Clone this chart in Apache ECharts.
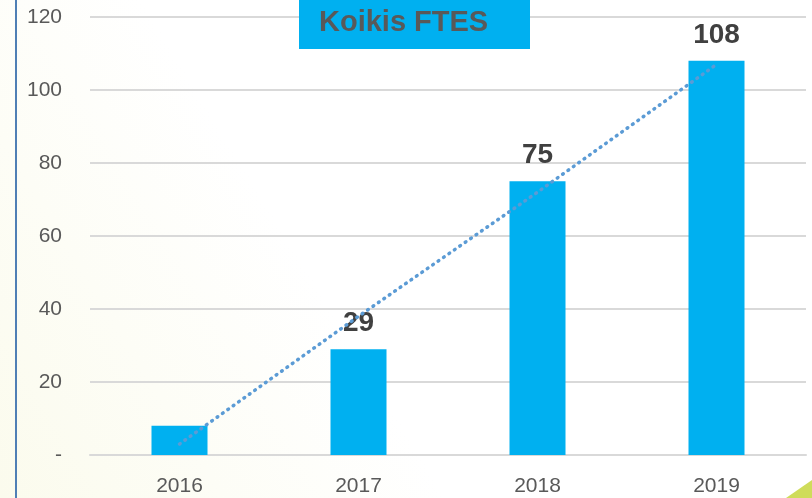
<!DOCTYPE html>
<html>
<head>
<meta charset="utf-8">
<script src="https://cdn.jsdelivr.net/npm/echarts@6/dist/echarts.min.js"></script>
<style>
  html, body { margin: 0; padding: 0; }
  #main { width: 812px; height: 498px; }
</style>
</head>
<body>
<div id="main"></div>
<script>
// chart data
let years = ['2016', '2017', '2018', '2019'];
let ftesValues = [8, 29, 75, 108];
let trendValues = [3, 38, 72, 107];   // linear trendline
let yTicks = [0, 20, 40, 60, 80, 100, 120];
let titleText = 'Koikis FTES';

let barColor = '#00B0F0';
let textGrey = '#595959';

let chart = echarts.init(document.getElementById('main'));

let option = {
	backgroundColor: new echarts.graphic.LinearGradient(1, 0, 0, 1, [
		{ offset: 0, color: '#ffffff' },
		{ offset: 0.6, color: '#ffffff' },
		{ offset: 1, color: '#fbfbed' }
	]),
	animation: false,
	grid: {
		left: 90,
		right: 6,
		top: 17,
		bottom: 43
	},
	graphic: [
		{
			type: 'line',
			z: 100,
			shape: { x1: 16, y1: 0, x2: 16, y2: 498 },
			style: { stroke: '#4F7FB5', lineWidth: 2 }
		},
		{
			type: 'polygon',
			z: 100,
			shape: { points: [[786, 498], [812, 480], [812, 498]] },
			style: { fill: '#cfdc5a' }
		},
		{
			type: 'rect',
			z: 100,
			shape: { x: 299, y: 0, width: 231, height: 49 },
			style: { fill: barColor }
		},
		{
			type: 'text',
			z: 101,
			left: 319,
			top: 8,
			style: {
				text: titleText,
				fill: textGrey,
				font: 'bold 29px "Liberation Sans"'
			}
		}
	],
	xAxis: {
		type: 'category',
		data: years,
		axisLine: { show: true, lineStyle: { color: '#d9d9d9', width: 2 } },
		axisTick: { show: false },
		axisLabel: {
			color: textGrey,
			fontSize: 21,
			fontFamily: 'Liberation Sans',
			margin: 21
		}
	},
	yAxis: {
		type: 'value',
		min: yTicks[0],
		max: yTicks[yTicks.length - 1],
		interval: 20,
		axisLine: { show: false },
		axisTick: { show: false },
		splitLine: { lineStyle: { color: '#d9d9d9', width: 2 } },
		axisLabel: {
			color: textGrey,
			fontSize: 21,
			fontFamily: 'Liberation Sans',
			margin: 28,
			formatter: function (v) {
				return v === 0 ? '-' : String(v);
			}
		}
	},
	series: [
		{
			type: 'bar',
			data: ftesValues,
			barWidth: 56,
			itemStyle: { color: barColor },
			label: {
				show: true,
				position: 'top',
				distance: 12,
				color: '#404040',
				fontSize: 28,
				fontWeight: 'bold',
				fontFamily: 'Liberation Sans',
				formatter: function (p) {
					// the first bar carries no label in the original
					return p.dataIndex === 0 ? '' : String(p.value);
				}
			},
			z: 2
		},
		{
			type: 'line',
			data: trendValues,
			symbol: 'none',
			lineStyle: {
				color: '#5B9BD5',
				width: 3.5,
				type: [0.8, 5.8],
				cap: 'round'
			},
			z: 3
		}
	]
};

chart.setOption(option);
</script>
</body>
</html>
